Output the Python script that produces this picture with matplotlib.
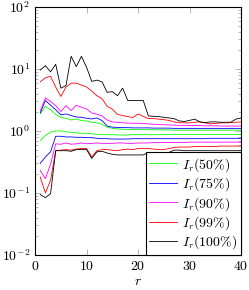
import matplotlib
matplotlib.use("Agg")
import matplotlib.pyplot as plt
from matplotlib.ticker import LogLocator, NullFormatter, FixedLocator

plt.rcParams['mathtext.fontset'] = 'cm'
plt.rcParams['font.family'] = 'DejaVu Serif'

# r values
r = list(range(1, 41))

# upper curves
green_hi = [1.9, 2.5, 2.2, 1.85, 1.66, 1.6, 1.5, 1.56, 1.47, 1.45, 1.38, 1.35, 1.28, 1.15, 1.1, 1.08,
            1.06, 1.06, 1.05, 1.05, 1.05, 1.05, 1.04, 1.04, 1.04, 1.04, 1.03, 1.03, 1.03, 1.03,
            1.03, 1.03, 1.03, 1.03, 1.03, 1.03, 1.03, 1.03, 1.03, 1.03]
blue_hi = [1.95, 3.1, 2.6, 2.2, 1.82, 1.88, 1.77, 1.68, 1.66, 1.6, 1.56, 1.62, 1.47, 1.2, 1.15, 1.14,
           1.13, 1.13, 1.12, 1.12, 1.12, 1.12, 1.11, 1.11, 1.11, 1.11, 1.1, 1.1, 1.1, 1.1,
           1.1, 1.1, 1.1, 1.1, 1.1, 1.1, 1.1, 1.1, 1.1, 1.1]
magenta_hi = [2.1, 3.4, 3.0, 2.56, 2.05, 2.56, 2.13, 2.6, 2.41, 2.26, 1.95, 1.86, 1.75, 1.5, 1.4, 1.38,
              1.35, 1.34, 1.33, 1.33, 1.32, 1.3, 1.28, 1.27, 1.26, 1.25, 1.24, 1.23, 1.23, 1.22,
              1.22, 1.22, 1.21, 1.21, 1.21, 1.2, 1.2, 1.2, 1.2, 1.2]
red_hi = [6.2, 7.2, 7.6, 5.1, 3.6, 5.1, 5.9, 5.9, 5.5, 5.1, 4.4, 3.7, 3.3, 2.5, 2.25, 1.85,
          1.77, 1.7, 1.65, 1.88, 1.72, 1.58, 1.58, 1.55, 1.52, 1.48, 1.4, 1.36, 1.35, 1.35,
          1.38, 1.4, 1.35, 1.3, 1.32, 1.35, 1.35, 1.36, 1.38, 1.4]
black_hi = [9.6, 11.3, 9.0, 11.9, 4.9, 5.4, 16.0, 10.9, 16.0, 10.6, 6.3, 6.6, 6.2, 4.2, 4.3, 3.7,
            4.9, 3.1, 3.1, 3.1, 3.1, 1.75, 1.72, 1.7, 1.66, 1.62, 1.58, 1.45, 1.42, 1.48,
            1.55, 1.4, 1.36, 1.4, 1.4, 1.38, 1.38, 1.38, 1.55, 1.62]

# lower curves
green_lo = [0.7, 0.85, 0.96, 1.0, 1.0, 0.97, 0.95, 0.93, 0.92, 0.92, 0.9, 0.88, 0.87, 0.87, 0.87, 0.86,
            0.86, 0.86, 0.87, 0.87, 0.87, 0.87, 0.87, 0.87, 0.87, 0.88, 0.88, 0.88, 0.88, 0.88,
            0.88, 0.88, 0.88, 0.88, 0.88, 0.88, 0.88, 0.88, 0.88, 0.88]
blue_lo = [0.3, 0.38, 0.46, 0.82, 0.82, 0.8, 0.8, 0.79, 0.79, 0.78, 0.78, 0.76, 0.75, 0.75, 0.74, 0.74,
           0.74, 0.74, 0.75, 0.75, 0.75, 0.75, 0.75, 0.75, 0.75, 0.75, 0.75, 0.75, 0.75, 0.75,
           0.75, 0.75, 0.75, 0.76, 0.76, 0.76, 0.76, 0.76, 0.76, 0.76]
magenta_lo = [0.23, 0.17, 0.29, 0.62, 0.61, 0.64, 0.61, 0.62, 0.64, 0.62, 0.63, 0.64, 0.63, 0.63, 0.63, 0.64,
              0.64, 0.63, 0.63, 0.64, 0.64, 0.64, 0.65, 0.65, 0.65, 0.65, 0.65, 0.65, 0.65, 0.66,
              0.66, 0.66, 0.66, 0.66, 0.66, 0.66, 0.66, 0.66, 0.66, 0.66]
red_lo = [0.18, 0.1, 0.16, 0.48, 0.49, 0.5, 0.49, 0.51, 0.52, 0.52, 0.38, 0.48, 0.5, 0.5, 0.49, 0.48,
          0.5, 0.51, 0.5, 0.52, 0.52, 0.52, 0.51, 0.5, 0.5, 0.52, 0.54, 0.55, 0.55, 0.55,
          0.56, 0.56, 0.56, 0.56, 0.56, 0.57, 0.57, 0.57, 0.57, 0.57]
black_lo = [0.094, 0.084, 0.097, 0.48, 0.48, 0.48, 0.47, 0.5, 0.5, 0.5, 0.36, 0.46, 0.47, 0.44, 0.42, 0.41,
            0.41, 0.41, 0.41, 0.41, 0.41, 0.45, 0.45, 0.45, 0.45, 0.45, 0.49, 0.49, 0.48, 0.48,
            0.48, 0.48, 0.48, 0.48, 0.48, 0.48, 0.48, 0.48, 0.48, 0.48]

labels = [r'$I_r(50\%)$', r'$I_r(75\%)$', r'$I_r(90\%)$', r'$I_r(99\%)$', r'$I_r(100\%)$']
colors = ['#00ff00', '#0000ff', '#ff00ff', '#ff0000', '#000000']
upper = [green_hi, blue_hi, magenta_hi, red_hi, black_hi]
lower = [green_lo, blue_lo, magenta_lo, red_lo, black_lo]

fig = plt.figure(figsize=(2.49, 2.90), dpi=100)
ax = fig.add_axes([0.141, 0.121, 0.827, 0.855])

for hi, lo, c, lab in zip(upper, lower, colors, labels):
    ax.plot(r, hi, color=c, lw=0.6, label=lab)
    ax.plot(r, lo, color=c, lw=0.6)

ax.set_yscale('log')
ax.set_xlim(0, 40)
ax.set_ylim(1e-2, 1e2)
ax.xaxis.set_major_locator(FixedLocator([0, 10, 20, 30, 40]))
ax.yaxis.set_major_locator(LogLocator(base=10, numticks=10))
ax.yaxis.set_minor_locator(LogLocator(base=10, subs=range(2, 10), numticks=10))
ax.yaxis.set_minor_formatter(NullFormatter())
ax.set_xticklabels(['$0$', '$10$', '$20$', '$30$', '$40$'])
ax.set_yticks([1e-2, 1e-1, 1e0, 1e1, 1e2])
ax.set_yticklabels(['$10^{-2}$', '$10^{-1}$', '$10^{0}$', '$10^{1}$', '$10^{2}$'])
ax.tick_params(which='both', direction='in', top=True, right=True, labelsize=10, color='#999999')
ax.tick_params(which='major', length=4, width=0.5)
ax.tick_params(which='minor', length=2, width=0.5)
ax.tick_params(axis='x', pad=3)
for s in ax.spines.values():
    s.set_linewidth(0.8)
ax.set_xlabel('$r$', fontsize=10, labelpad=1)

leg = ax.legend(loc='lower right', fontsize=10, borderaxespad=0, fancybox=False,
                edgecolor='black', framealpha=1, handlelength=2.0, handletextpad=0.4,
                labelspacing=0.12, borderpad=0.25)
leg.get_frame().set_linewidth(0.8)

fig.savefig('out.png', dpi=100)
